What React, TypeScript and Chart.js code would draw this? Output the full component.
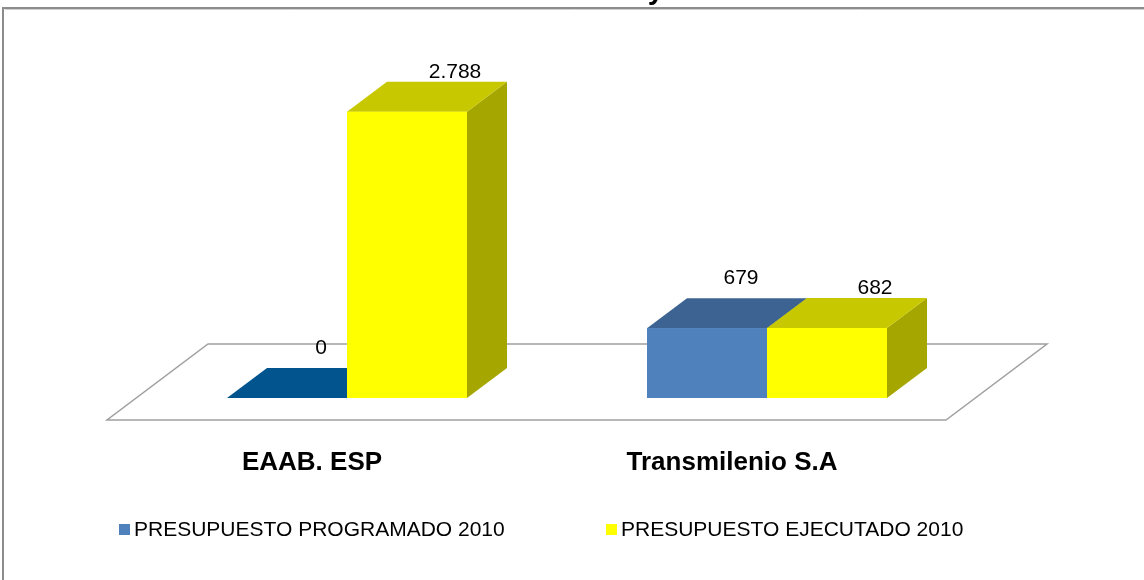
import React, { useEffect, useRef } from "react";
import { Chart, registerables } from "chart.js";

Chart.register(...registerables);

const titleText = "Financiamiento de la EAAB y Transmilenio S.A";
const categories = ["EAAB. ESP", "Transmilenio S.A"];
const programado = [0, 679];
const ejecutado = [2788, 682];
const seriesLabels = ["PRESUPUESTO PROGRAMADO 2010", "PRESUPUESTO EJECUTADO 2010"];

const FONT = '"Liberation Sans", Arial, sans-serif';

const faceColors = [
  { front: "#4F81BD", top: "#3C6391", side: "#35577F", flat: "#02548F" },
  { front: "#FFFF00", top: "#C8C800", side: "#A6A600", flat: "#C8C800" },
];
const labelOffsets = [
  { dx: -6, dy: -20 },
  { dx: 8, dy: -10 },
];

const DEPTH_X = 40;
const DEPTH_Y = -30;

function fmt(v: number): string {
  return String(v).replace(/\B(?=(\d{3})+(?!\d))/g, ".");
}

const threeD = {
  id: "threeD",
  beforeDraw(chart: any) {
    const ctx = chart.ctx;
    ctx.save();
    ctx.fillStyle = "#ffffff";
    ctx.fillRect(0, 0, chart.width, chart.height);
    // title (partly cut off at top)
    ctx.fillStyle = "#000000";
    ctx.font = `bold 29px ${FONT}`;
    ctx.textAlign = "center";
    ctx.textBaseline = "alphabetic";
    ctx.fillText(titleText, 585, -1);
    // frame
    ctx.strokeStyle = "#8C8C8C";
    ctx.lineWidth = 2;
    ctx.beginPath();
    ctx.moveTo(3, chart.height);
    ctx.lineTo(3, 8);
    ctx.lineTo(chart.width, 8);
    ctx.stroke();
    ctx.strokeStyle = "#D0D0D0";
    ctx.lineWidth = 1;
    ctx.beginPath();
    ctx.moveTo(5, 9.5);
    ctx.lineTo(chart.width, 9.5);
    ctx.stroke();
    ctx.restore();
  },
  beforeDatasetsDraw(chart: any) {
    const ctx = chart.ctx;
    const area = chart.chartArea;
    const y0 = chart.scales.y.getPixelForValue(0);
    const fl = area.left - 30;
    const fr = area.right - 31;
    const fy = y0 + 22;
    const bx = 101;
    const by = -76;
    ctx.save();
    ctx.fillStyle = "#ffffff";
    ctx.strokeStyle = "#A0A0A0";
    ctx.lineWidth = 1.5;
    ctx.beginPath();
    ctx.moveTo(fl, fy);
    ctx.lineTo(fr, fy);
    ctx.lineTo(fr + bx, fy + by);
    ctx.lineTo(fl + bx, fy + by);
    ctx.closePath();
    ctx.fill();
    ctx.stroke();
    ctx.restore();
  },
  afterDatasetsDraw(chart: any) {
    const ctx = chart.ctx;
    ctx.save();
    const nCat = categories.length;
    const metas = chart.data.datasets.map((_: any, i: number) => chart.getDatasetMeta(i));
    for (let c = 0; c < nCat; c++) {
      metas.forEach((meta: any, d: number) => {
        const el = meta.data[c];
        const p = el.getProps(["x", "y", "base", "width"], true);
        const l = p.x - p.width / 2;
        const r = p.x + p.width / 2;
        const top = Math.min(p.y, p.base);
        const bottom = Math.max(p.y, p.base);
        const col = faceColors[d];
        const flat = bottom - top < 0.5;
        if (!flat) {
          ctx.fillStyle = col.side;
          ctx.beginPath();
          ctx.moveTo(r, bottom);
          ctx.lineTo(r, top);
          ctx.lineTo(r + DEPTH_X, top + DEPTH_Y);
          ctx.lineTo(r + DEPTH_X, bottom + DEPTH_Y);
          ctx.closePath();
          ctx.fill();
        }
        ctx.fillStyle = flat ? col.flat : col.top;
        ctx.beginPath();
        ctx.moveTo(l, top);
        ctx.lineTo(r, top);
        ctx.lineTo(r + DEPTH_X, top + DEPTH_Y);
        ctx.lineTo(l + DEPTH_X, top + DEPTH_Y);
        ctx.closePath();
        ctx.fill();
        if (!flat) {
          ctx.fillStyle = col.front;
          ctx.fillRect(l, top, r - l, bottom - top);
        }
      });
    }
    // value labels
    ctx.fillStyle = "#000000";
    ctx.font = `21px ${FONT}`;
    ctx.textAlign = "center";
    ctx.textBaseline = "middle";
    metas.forEach((meta: any, d: number) => {
      meta.data.forEach((el: any, c: number) => {
        const p = el.getProps(["x", "y", "base"], true);
        const top = Math.min(p.y, p.base);
        const v = chart.data.datasets[d].data[c];
        ctx.fillText(
          fmt(v),
          p.x + DEPTH_X + labelOffsets[d].dx,
          top + DEPTH_Y + labelOffsets[d].dy
        );
      });
    });
    // category labels
    ctx.font = `bold 26px ${FONT}`;
    const xs = chart.scales.x;
    const y0 = chart.scales.y.getPixelForValue(0);
    categories.forEach((cat, i) => {
      ctx.fillText(cat, xs.getPixelForValue(i) - 35, y0 + 65);
    });
    // legend
    ctx.font = `21px ${FONT}`;
    ctx.textAlign = "left";
    const legendX = [119, 606];
    const legendY = 530;
    seriesLabels.forEach((lab, i) => {
      ctx.fillStyle = faceColors[i].front;
      ctx.fillRect(legendX[i], legendY - 6, 11, 11);
      ctx.fillStyle = "#000000";
      ctx.fillText(lab, legendX[i] + 15, legendY);
    });
    ctx.restore();
  },
};

export default function App() {
  const canvasRef = useRef<HTMLCanvasElement | null>(null);
  useEffect(() => {
    if (!canvasRef.current) return;
    const chart = new Chart(canvasRef.current, {
      type: "bar",
      data: {
        labels: categories,
        datasets: [
          {
            label: seriesLabels[0],
            data: programado,
            backgroundColor: faceColors[0].front,
            borderWidth: 0,
            barPercentage: 1,
            categoryPercentage: 240 / 420,
          },
          {
            label: seriesLabels[1],
            data: ejecutado,
            backgroundColor: faceColors[1].front,
            borderWidth: 0,
            barPercentage: 1,
            categoryPercentage: 240 / 420,
          },
        ],
      },
      options: {
        responsive: false,
        animation: false,
        layout: { padding: { left: 137, right: 167, top: 90, bottom: 182 } },
        scales: {
          x: { display: false },
          y: { display: false, min: 0, max: 3000 },
        },
        plugins: {
          legend: { display: false },
          tooltip: { enabled: false },
        },
      },
      plugins: [threeD],
    });
    return () => chart.destroy();
  }, []);
  return (
    <div style={{ position: "absolute", left: 0, top: 0, width: 1144, height: 580 }}>
      <canvas ref={canvasRef} width={1144} height={580} style={{ display: "block" }} />
    </div>
  );
}
